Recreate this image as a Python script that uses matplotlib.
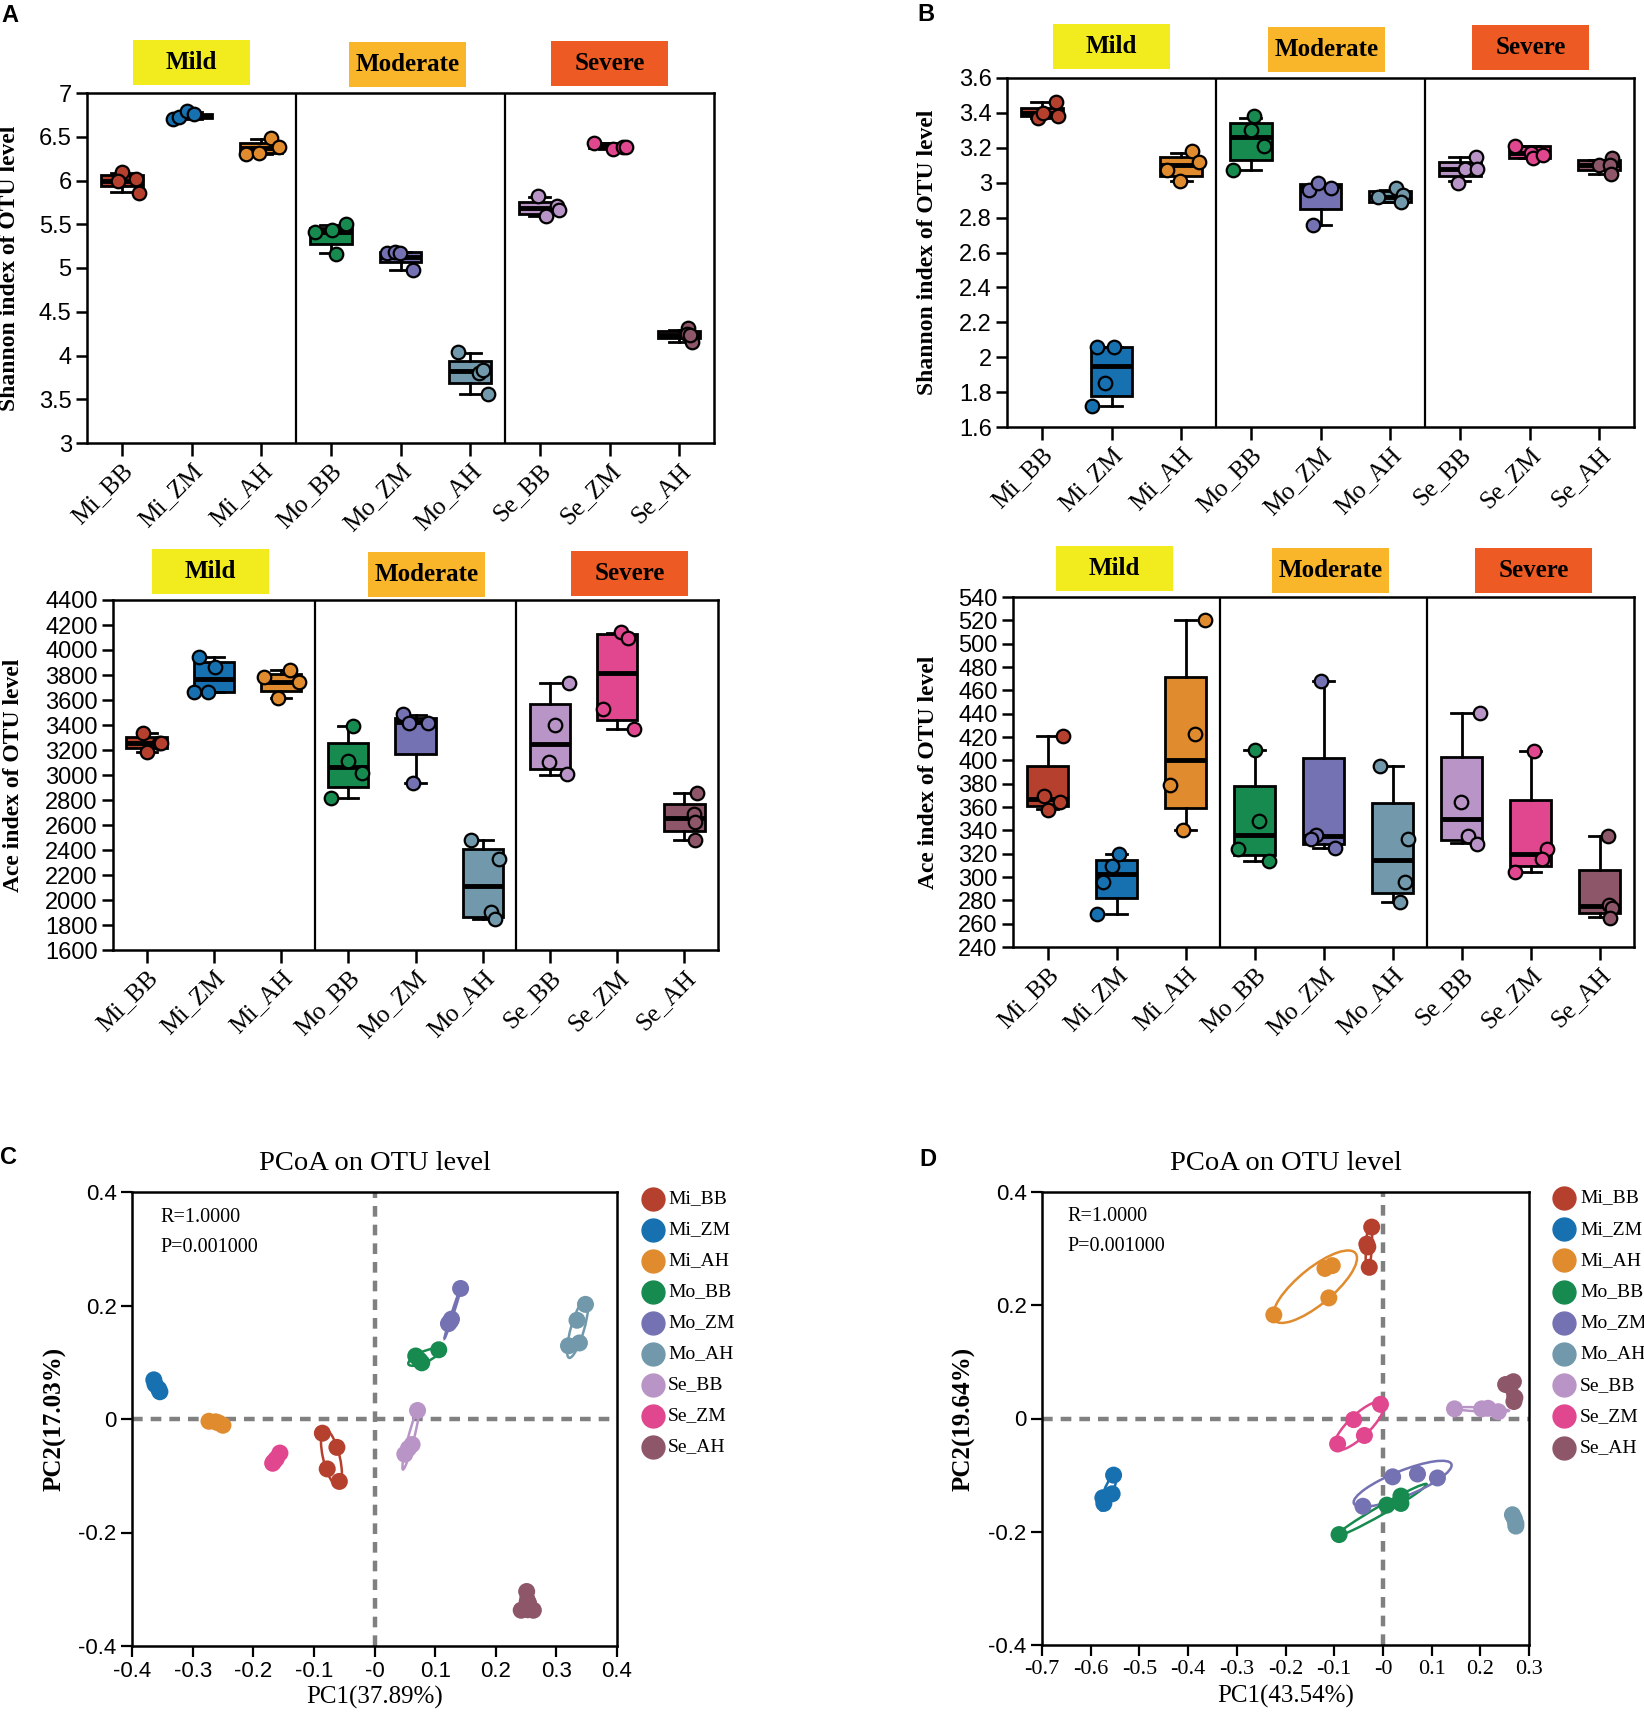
import matplotlib
matplotlib.use('Agg')
import matplotlib.pyplot as plt
import numpy as np
from matplotlib.patches import Rectangle, Ellipse
from matplotlib.lines import Line2D

plt.rcParams['axes.unicode_minus'] = False
SERIF = 'Liberation Serif'
SANS = 'Liberation Sans'

# ---------------- data ----------------
groups = ['Mi_BB', 'Mi_ZM', 'Mi_AH', 'Mo_BB', 'Mo_ZM', 'Mo_AH', 'Se_BB', 'Se_ZM', 'Se_AH']
colors = ['#B5402E', '#1770B0', '#E08B2E', '#178A4F', '#7472B2',
          '#7199AB', '#B994C6', '#E0478E', '#8E5669']
severity = ['Mild', 'Moderate', 'Severe']
severity_colors = ['#F2EC1F', '#F9B62B', '#EE5A24']

# box stats per group: [whisker_low, q1, median, q3, whisker_high]
shannonA_box = [[5.87, 5.94, 6.00, 6.06, 6.09], [6.70, 6.71, 6.735, 6.76, 6.78],
                [6.30, 6.31, 6.37, 6.43, 6.48], [5.17, 5.28, 5.41, 5.46, 5.49],
                [4.98, 5.07, 5.13, 5.18, 5.18], [3.56, 3.68, 3.82, 3.94, 4.03],
                [5.59, 5.62, 5.69, 5.75, 5.81], [6.36, 6.37, 6.41, 6.43, 6.43],
                [4.16, 4.20, 4.24, 4.28, 4.29]]
shannonA_pts = [[6.10, 6.00, 6.02, 5.86], [6.70, 6.73, 6.79, 6.76], [6.30, 6.32, 6.49, 6.38],
                [5.41, 5.43, 5.50, 5.16], [5.17, 5.18, 5.17, 4.98], [4.04, 3.80, 3.84, 3.56],
                [5.82, 5.59, 5.71, 5.66], [6.43, 6.36, 6.38, 6.38], [4.31, 4.25, 4.16, 4.23]]
shannonA_jit = [[0.0, -0.05, 0.2, 0.24], [-0.26, -0.18, -0.07, 0.03], [-0.22, -0.03, 0.14, 0.26],
                [-0.23, 0.01, 0.22, 0.08], [-0.2, -0.08, -0.01, 0.18], [-0.18, 0.13, 0.18, 0.25],
                [-0.02, 0.09, 0.25, 0.28], [-0.22, 0.05, 0.2, 0.24], [0.13, 0.11, 0.18, 0.15]]

shannonB_box = [[3.37, 3.38, 3.40, 3.43, 3.46], [1.72, 1.78, 1.95, 2.06, 2.06],
                [3.01, 3.04, 3.10, 3.15, 3.17], [3.07, 3.13, 3.26, 3.34, 3.37],
                [2.76, 2.85, 2.98, 2.99, 2.99], [2.89, 2.89, 2.92, 2.95, 2.96],
                [3.01, 3.04, 3.08, 3.12, 3.15], [3.14, 3.14, 3.17, 3.21, 3.21],
                [3.05, 3.07, 3.10, 3.13, 3.13]]
shannonB_pts = [[3.37, 3.40, 3.46, 3.38], [2.06, 2.06, 1.85, 1.72], [3.07, 3.01, 3.18, 3.12],
                [3.07, 3.30, 3.38, 3.21], [2.96, 3.00, 2.97, 2.76], [2.92, 2.97, 2.93, 2.89],
                [3.00, 3.08, 3.15, 3.08], [3.21, 3.17, 3.14, 3.16], [3.10, 3.14, 3.10, 3.05]]
shannonB_jit = [[-0.05, 0.02, 0.2, 0.23], [-0.21, 0.04, -0.09, -0.28], [-0.21, -0.02, 0.15, 0.26],
                [-0.25, 0.0, 0.05, 0.19], [-0.17, -0.04, 0.15, -0.11], [-0.17, 0.09, 0.19, 0.15],
                [-0.02, 0.08, 0.23, 0.25], [-0.21, 0.02, 0.05, 0.2], [0.0, 0.19, 0.15, 0.17]]

aceA_box = [[3187, 3213, 3253, 3301, 3333], [3661, 3661, 3768, 3901, 3944],
            [3613, 3675, 3747, 3808, 3837], [2813, 2907, 3061, 3253, 3392],
            [2933, 3168, 3427, 3453, 3480], [1848, 1867, 2112, 2405, 2480],
            [3000, 3048, 3248, 3568, 3739], [3365, 3440, 3813, 4125, 4139],
            [2480, 2552, 2659, 2768, 2853]]
aceA_pts = [[3333, 3187, 3253, 3259], [3947, 3661, 3667, 3861], [3781, 3613, 3840, 3747],
            [2813, 3112, 3395, 3013], [3485, 3419, 3413, 2933], [2480, 2325, 1907, 1848],
            [3739, 3400, 3101, 3005], [4147, 4093, 3525, 3365], [2853, 2685, 2621, 2480]]
aceA_jit = [[-0.06, 0.01, 0.19, 0.22], [-0.22, -0.29, -0.08, 0.02], [-0.25, -0.04, 0.14, 0.27],
            [-0.25, 0.0, 0.07, 0.2], [-0.18, -0.1, 0.18, -0.04], [-0.18, 0.24, 0.13, 0.18],
            [0.28, 0.08, -0.02, 0.25], [0.06, 0.16, -0.21, 0.25], [0.19, 0.14, 0.16, 0.16]]

aceB_box = [[358, 360.6, 367, 395, 421], [268.6, 282, 303, 315, 320],
            [340, 359, 400.6, 471.4, 520.6], [314, 318.6, 336.3, 378, 408.6],
            [325, 328.6, 334.9, 402, 468], [279, 286.6, 314.3, 363.7, 395],
            [329, 331.4, 350, 402.9, 440.9], [304.3, 309.4, 320, 365.7, 407.7],
            [265.7, 269, 275, 305.7, 335]]
aceB_pts = [[421, 369.4, 364, 357.7], [320, 309.4, 295.7, 268.6], [520.6, 422.3, 379, 340],
            [408.6, 348, 324, 313.4], [468, 335.7, 332.9, 325], [395, 332.3, 295.7, 279],
            [440.9, 364.3, 335, 328.6], [407.7, 323.7, 315.7, 304.3], [335, 276, 273.4, 265]]
aceB_jit = [[0.22, -0.05, 0.18, 0.01], [0.03, -0.07, -0.2, -0.28], [0.28, 0.14, -0.23, -0.04],
            [0.0, 0.07, -0.24, 0.21], [-0.04, -0.11, -0.18, 0.17], [-0.18, 0.23, 0.18, 0.11],
            [0.27, -0.01, 0.09, 0.23], [0.05, 0.24, 0.16, -0.22], [0.13, 0.14, 0.18, 0.15]]

pcoaC_x = [[-0.086, -0.062, -0.078, -0.058], [-0.364, -0.362, -0.356, -0.354],
           [-0.273, -0.262, -0.257, -0.250], [0.068, 0.106, 0.078, 0.074],
           [0.142, 0.127, 0.122, 0.125], [0.348, 0.334, 0.320, 0.338],
           [0.071, 0.062, 0.050, 0.056], [-0.166, -0.156, -0.162, -0.168],
           [0.251, 0.242, 0.262, 0.254]]
pcoaC_y = [[-0.025, -0.050, -0.088, -0.110], [0.069, 0.061, 0.053, 0.048],
           [-0.004, -0.005, -0.007, -0.011], [0.111, 0.122, 0.099, 0.104],
           [0.230, 0.176, 0.168, 0.172], [0.202, 0.174, 0.129, 0.134],
           [0.015, -0.045, -0.062, -0.052], [-0.075, -0.060, -0.070, -0.078],
           [-0.304, -0.337, -0.337, -0.324]]
pcoaD_x = [[-0.023, -0.033, -0.028, -0.031], [-0.553, -0.556, -0.575, -0.573],
           [-0.224, -0.111, -0.119, -0.104], [-0.090, 0.008, 0.037, 0.037],
           [-0.041, 0.020, 0.071, 0.112], [0.266, 0.273, 0.270, 0.273],
           [0.147, 0.203, 0.216, 0.237], [-0.005, -0.060, -0.038, -0.093],
           [0.252, 0.268, 0.271, 0.269]]
pcoaD_y = [[0.338, 0.308, 0.267, 0.303], [-0.100, -0.133, -0.140, -0.150],
           [0.183, 0.213, 0.265, 0.270], [-0.205, -0.153, -0.137, -0.150],
           [-0.155, -0.103, -0.098, -0.105], [-0.170, -0.185, -0.177, -0.190],
           [0.017, 0.017, 0.018, 0.012], [0.025, -0.002, -0.030, -0.045],
           [0.060, 0.065, 0.037, 0.030]]
pcoaC_labels = ('PC1(37.89%)', 'PC2(17.03%)')
pcoaD_labels = ('PC1(43.54%)', 'PC2(19.64%)')
stat_text = ['R=1.0000', 'P=0.001000']

# ---------------- layout helpers ----------------
W, H = 1644, 1712
fig = plt.figure(figsize=(W / 100, H / 100), dpi=100)


def px_axes(L, T, R, B):
    return fig.add_axes([L / W, 1 - B / H, (R - L) / W, (B - T) / H])


def fx(x):
    return x / W


def fy(y):
    return 1 - y / H


def severity_boxes(lefts_tops, w=117, h=45):
    for (x0, y0), name, c in zip(lefts_tops, severity, severity_colors):
        fig.add_artist(Rectangle((fx(x0), fy(y0 + h)), w / W, h / H,
                                 transform=fig.transFigure, facecolor=c,
                                 edgecolor='none'))
        fig.text(fx(x0 + w / 2), fy(y0 + h / 2), name, ha='center', va='center',
                 fontfamily=SERIF, fontweight='bold', fontsize=18, color='black')


def style_spines(ax, lw=1.8):
    for s in ax.spines.values():
        s.set_linewidth(lw)
        s.set_color('black')


def box_panel(ax, box, pts, jit, ylim, ystep, ylabel, ylab_x):
    stats = [dict(whislo=b[0], q1=b[1], med=b[2], q3=b[3], whishi=b[4], fliers=[])
             for b in box]
    res = ax.bxp(stats, positions=np.arange(len(groups)), widths=0.6, capwidths=0.3,
                 patch_artist=True, showfliers=False, manage_ticks=False,
                 boxprops=dict(linewidth=2.0, edgecolor='black'),
                 whiskerprops=dict(linewidth=2.0, color='black'),
                 capprops=dict(linewidth=2.0, color='black'),
                 medianprops=dict(linewidth=3.5, color='black', solid_capstyle='butt'))
    for patch, c in zip(res['boxes'], colors):
        patch.set_facecolor(c)
    for i, (p, j, c) in enumerate(zip(pts, jit, colors)):
        ax.scatter(i + np.asarray(j), p, s=95, color=c, edgecolor='black',
                   linewidth=1.6, zorder=5)
    for xv in (2.5, 5.5):
        ax.axvline(xv, color='black', lw=1.6, zorder=1)
    ax.set_xlim(-0.5, len(groups) - 0.5)
    ax.set_ylim(*ylim)
    yt = np.round(np.arange(ylim[0], ylim[1] + ystep / 2, ystep), 2)
    ax.set_yticks(yt)
    ax.set_yticklabels([f'{v:g}' for v in yt], fontfamily=SANS, fontsize=17)
    ax.set_xticks(np.arange(len(groups)))
    ax.set_xticklabels(groups, rotation=45, ha='right', va='top',
                       rotation_mode='anchor', fontfamily=SERIF, fontsize=18)
    ax.tick_params(axis='y', direction='out', length=8, width=1.8, pad=3)
    ax.tick_params(axis='x', direction='out', length=9, width=1.8, pad=3)
    style_spines(ax)
    ax.set_ylabel(ylabel, fontfamily=SERIF, fontweight='bold', fontsize=17)
    ax.yaxis.set_label_coords(ylab_x, 0.5)


def cov_ellipse(ax, x, y, color):
    pts = np.column_stack([x, y])
    mu = pts.mean(axis=0)
    cov = np.cov(pts.T) + np.eye(2) * 1e-7
    inv = np.linalg.inv(cov)
    d = pts - mu
    k = np.sqrt(np.max(np.einsum('ij,jk,ik->i', d, inv, d))) * 1.02
    vals, vecs = np.linalg.eigh(cov)
    ang = np.degrees(np.arctan2(vecs[1, 1], vecs[0, 1]))
    ax.add_patch(Ellipse(mu, 2 * k * np.sqrt(vals[1]), 2 * k * np.sqrt(vals[0]),
                         angle=ang, facecolor='none', edgecolor=color, lw=1.8, zorder=2))


def pcoa_panel(ax, xs, ys, xlim, xstep, labels, serif_x, stat_pos, ylab_x):
    for x, y, c in zip(xs, ys, colors):
        cov_ellipse(ax, x, y, c)
        ax.scatter(x, y, s=150, color=c, edgecolor='none', zorder=3)
    dash = dict(color='#808080', lw=3.2, ls=(0, (2.4, 1.8)), zorder=1)
    ax.axhline(0, **dash)
    ax.axvline(0, **dash)
    ax.set_xlim(*xlim)
    ax.set_ylim(-0.4, 0.4)
    xt = np.round(np.arange(xlim[0], xlim[1] + xstep / 2, xstep), 2)
    ax.set_xticks(xt)
    ax.set_xticklabels([f'{v:g}' for v in xt],
                       fontfamily=SERIF if serif_x else SANS, fontsize=16)
    yt = np.round(np.arange(-0.4, 0.41, 0.2), 2)
    ax.set_yticks(yt)
    ax.set_yticklabels([f'{v:g}' for v in yt], fontfamily=SANS, fontsize=16)
    ax.tick_params(direction='out', length=8, width=1.6, pad=3)
    style_spines(ax, 1.8)
    ax.set_title('PCoA on OTU level', fontfamily=SERIF, fontsize=20.5, pad=16)
    ax.set_xlabel(labels[0], fontfamily=SERIF, fontsize=18)
    ax.xaxis.set_label_coords(0.5, -0.088)
    ax.set_ylabel(labels[1], fontfamily=SERIF, fontweight='bold', fontsize=18)
    ax.yaxis.set_label_coords(ylab_x, 0.5)
    for t, yy in zip(stat_text, stat_pos[1]):
        ax.text(stat_pos[0], yy, t, transform=ax.transAxes, fontfamily=SERIF,
                fontsize=14.5, ha='left', va='center')


def manual_legend(cx, tx, y0, step):
    for i, (g, c) in enumerate(zip(groups, colors)):
        yy = y0 + i * step
        fig.add_artist(Line2D([fx(cx)], [fy(yy)], marker='o', ms=16.5, color=c,
                              linestyle='none', transform=fig.transFigure))
        fig.text(fx(tx), fy(yy), g, ha='left', va='center', fontfamily=SERIF,
                 fontsize=14)


# ---------------- panels ----------------
axA1 = px_axes(87, 93, 714, 443)
box_panel(axA1, shannonA_box, shannonA_pts, shannonA_jit, (3, 7), 0.5,
          'Shannon index of OTU level', -0.107)
severity_boxes([(133, 40), (349, 42), (551, 41)])

axB1 = px_axes(1007, 78, 1634, 427)
box_panel(axB1, shannonB_box, shannonB_pts, shannonB_jit, (1.6, 3.6), 0.2,
          'Shannon index of OTU level', -0.110)
severity_boxes([(1053, 24), (1268, 27), (1472, 25)])

axA2 = px_axes(113, 600, 718, 950)
box_panel(axA2, aceA_box, aceA_pts, aceA_jit, (1600, 4400), 200,
          'Ace index of OTU level', -0.147)
severity_boxes([(152, 549), (368, 552), (571, 551)])

axB2 = px_axes(1013, 597, 1634, 947)
box_panel(axB2, aceB_box, aceB_pts, aceB_jit, (240, 540), 20,
          'Ace index of OTU level', -0.119)
severity_boxes([(1056, 546), (1272, 548), (1475, 548)])

axC = px_axes(132, 1192, 617, 1646)
pcoa_panel(axC, pcoaC_x, pcoaC_y, (-0.4, 0.4), 0.1, pcoaC_labels, False,
           (0.058, (0.943, 0.877)), -0.134)
manual_legend(653, 668, 1199, 31)

axD = px_axes(1042, 1192, 1529, 1645)
pcoa_panel(axD, pcoaD_x, pcoaD_y, (-0.7, 0.3), 0.1, pcoaD_labels, True,
           (0.053, (0.945, 0.880)), -0.136)
manual_legend(1564, 1580, 1198, 31.2)

for letter, (x, y) in zip('ABCD', [(1, 4), (917, 3), (0, 1146), (919, 1148)]):
    fig.text(fx(x), fy(y), letter, ha='left', va='top', fontfamily=SANS,
             fontweight='bold', fontsize=17)

fig.savefig('out.png', dpi=100, facecolor='white')
